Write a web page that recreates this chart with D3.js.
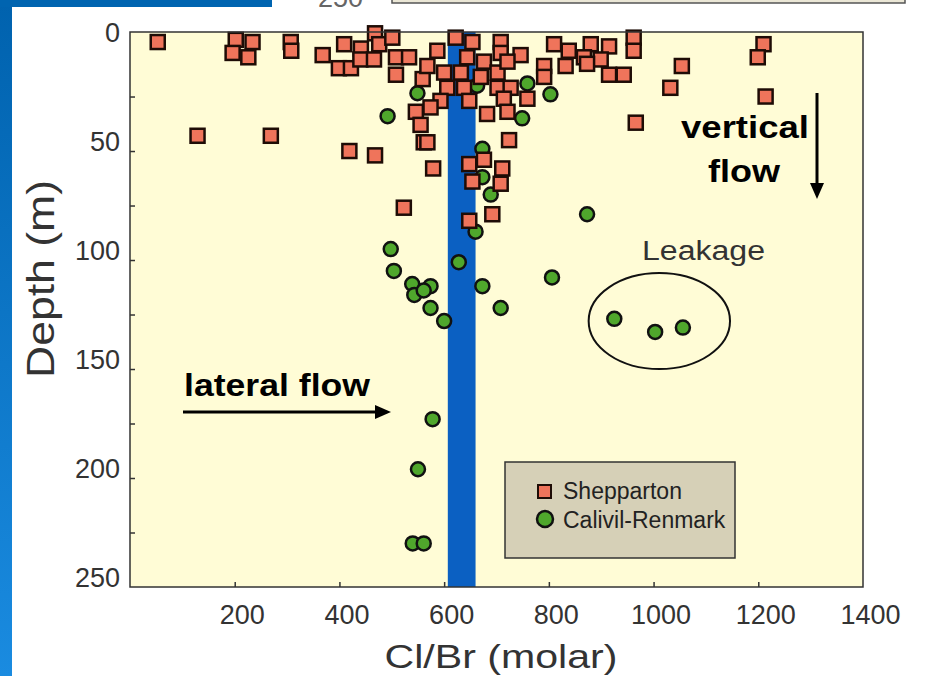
<!DOCTYPE html>
<html>
<head>
<meta charset="utf-8">
<script src="https://cdn.jsdelivr.net/npm/d3@7"></script>
<style>
  body { margin: 0; background: #fff; }
  svg { display: block; font-family: "Liberation Sans", Arial, sans-serif; }
</style>
</head>
<body>
<svg width="926" height="676"></svg>
<script>
const width = 926;
const height = 676;

// Cl/Br (molar), depth (m)
const shepparton = [
  [53, 0], [202, -1], [234, 0], [196, 5], [226, 7], [307, 0], [308, 4], [368, 6],
  [409, 1], [399, 12], [422, 12], [441, 3], [440, 8], [468, -4], [476, 1], [466, 8],
  [501, -2], [508, 7], [533, 7], [508, 15], [559, 17], [546, 32], [555, 38], [561, 46],
  [129, 43], [269, 43], [419, 50], [468, 52],
  [622, -2], [654, 0], [708, 0], [810, 1], [880, 1], [915, 2], [962, -2], [962, 4],
  [587, 4], [644, 7], [708, 5], [746, 6], [838, 4], [867, 7], [899, 8], [568, 11],
  [600, 14], [632, 14], [676, 9], [702, 14], [721, 9], [791, 11], [832, 11], [873, 10],
  [915, 15], [943, 15], [670, 16], [791, 16], [606, 21], [638, 21], [702, 21], [727, 21],
  [593, 27], [648, 27], [714, 26], [759, 26], [574, 30], [682, 33], [721, 32], [966, 37],
  [568, 46], [724, 45], [579, 58], [648, 56], [676, 54], [711, 58], [654, 64], [708, 65],
  [523, 76], [648, 82], [692, 79],
  [1210, 1], [1199, 7], [1054, 11], [1032, 21], [1214, 25]
];

const calivil = [
  [549, 23.5], [492, 34], [663, 20], [759, 19], [803, 24], [749, 35], [673, 49], [673, 62],
  [689, 70], [873, 79], [660, 87], [628, 101], [498, 95], [504, 105], [539, 111], [574, 112],
  [543, 116], [561, 114], [574, 122], [600, 128], [673, 112], [708, 122], [806, 108],
  [925, 127], [1003, 133], [1056, 131], [578, 173], [550, 196], [540, 230], [561, 230]
];

const xTicks = [200, 400, 600, 800, 1000, 1200, 1400];
const yTicks = [0, 25, 50, 75, 100, 125, 150, 175, 200, 225, 250];
const seawaterBand = [607, 660];
const seriesNames = ["Shepparton", "Calivil-Renmark"];

const x = d3.scaleLinear().domain([0, 1400]).range([130, 863]);
const y = d3.scaleLinear().domain([-4.6, 250]).range([32, 587]);

const svg = d3.select("svg");

// slide background pieces
const grad = svg.append("defs").append("linearGradient")
  .attr("id", "slideBlue").attr("x1", 0).attr("y1", 0).attr("x2", 0).attr("y2", 1);
grad.append("stop").attr("offset", "0%").attr("stop-color", "#0062ae");
grad.append("stop").attr("offset", "100%").attr("stop-color", "#1a8be0");
svg.append("rect").attr("x", 0).attr("y", 0).attr("width", 12).attr("height", height)
  .attr("fill", "url(#slideBlue)");
svg.append("rect").attr("x", 0).attr("y", 0).attr("width", 272).attr("height", 7)
  .attr("fill", "#0064b0");

// remains of the chart above
svg.append("rect").attr("x", 392).attr("y", -20).attr("width", 513).attr("height", 23)
  .attr("fill", "#ebe7d6").attr("stroke", "#555").attr("stroke-width", 1.5);
svg.append("text").attr("x", 318).attr("y", 7).attr("font-size", 27)
  .attr("fill", "#666").text("250");

// plot area
svg.append("rect")
  .attr("x", x(0)).attr("y", y(-4.6))
  .attr("width", x(1400) - x(0)).attr("height", y(250) - y(-4.6))
  .attr("fill", "#fffcd6");

svg.append("rect")
  .attr("x", x(seawaterBand[0])).attr("y", y(-4.6))
  .attr("width", x(seawaterBand[1]) - x(seawaterBand[0]))
  .attr("height", y(250) - y(-4.6))
  .attr("fill", "#0b60c2");

svg.append("g")
  .selectAll("circle")
  .data(calivil)
  .join("circle")
  .attr("cx", d => x(d[0]))
  .attr("cy", d => y(d[1]))
  .attr("r", 7)
  .attr("fill", "#4fa72c")
  .attr("stroke", "#111")
  .attr("stroke-width", 2.5);

svg.append("g")
  .selectAll("rect")
  .data(shepparton)
  .join("rect")
  .attr("x", d => x(d[0]) - 7)
  .attr("y", d => y(d[1]) - 7)
  .attr("width", 14)
  .attr("height", 14)
  .attr("fill", "#ef745b")
  .attr("stroke", "#1e0c06")
  .attr("stroke-width", 2.5);

// frame and axes
svg.append("rect")
  .attr("x", x(0)).attr("y", y(-4.6))
  .attr("width", x(1400) - x(0)).attr("height", y(250) - y(-4.6))
  .attr("fill", "none").attr("stroke", "#333").attr("stroke-width", 1.5);

const xAxis = svg.append("g")
  .attr("transform", `translate(0,${y(250)})`)
  .call(d3.axisBottom(x).tickValues(xTicks).tickFormat(d3.format("d"))
    .tickSizeInner(-5).tickSizeOuter(0).tickPadding(18));
xAxis.select(".domain").remove();
xAxis.selectAll(".tick line").attr("stroke", "#333").attr("stroke-width", 1.5)
  .filter(d => d === 1400).remove();
xAxis.selectAll(".tick text")
  .attr("font-size", 27).attr("font-family", "Liberation Sans, Arial, sans-serif")
  .attr("fill", "#333").attr("dx", 7);

const yAxis = svg.append("g")
  .attr("transform", `translate(${x(0)},0)`)
  .call(d3.axisLeft(y).tickValues(yTicks).tickSizeInner(-5).tickSizeOuter(0).tickPadding(10)
    .tickFormat(d => d % 50 === 0 ? d : ""));
yAxis.select(".domain").remove();
yAxis.selectAll(".tick line").attr("stroke", "#333").attr("stroke-width", 1.5)
  .filter(d => d === 0 || d === 250).remove();
yAxis.selectAll(".tick text")
  .attr("font-size", 27).attr("font-family", "Liberation Sans, Arial, sans-serif")
  .attr("fill", "#333").attr("y", -9);

svg.append("text")
  .attr("transform", "translate(54,279) rotate(-90)")
  .attr("text-anchor", "middle")
  .attr("font-size", 38).attr("fill", "#333")
  .attr("textLength", 198).attr("lengthAdjust", "spacingAndGlyphs")
  .text("Depth (m)");

svg.append("text")
  .attr("x", 501).attr("y", 668)
  .attr("text-anchor", "middle")
  .attr("font-size", 34).attr("fill", "#333")
  .attr("textLength", 233).attr("lengthAdjust", "spacingAndGlyphs")
  .text("Cl/Br (molar)");

// annotations
svg.append("text").attr("x", 745).attr("y", 138).attr("text-anchor", "middle")
  .attr("font-size", 32).attr("font-weight", "bold").attr("fill", "#000")
  .attr("textLength", 128).attr("lengthAdjust", "spacingAndGlyphs").text("vertical");
svg.append("text").attr("x", 744).attr("y", 182).attr("text-anchor", "middle")
  .attr("font-size", 32).attr("font-weight", "bold").attr("fill", "#000")
  .attr("textLength", 72).attr("lengthAdjust", "spacingAndGlyphs").text("flow");

svg.append("line").attr("x1", 817).attr("y1", 93).attr("x2", 817).attr("y2", 186)
  .attr("stroke", "#000").attr("stroke-width", 3);
svg.append("path").attr("d", "M810,183L824,183L817,199Z").attr("fill", "#000");

svg.append("text").attr("x", 184).attr("y", 396)
  .attr("font-size", 32).attr("font-weight", "bold").attr("fill", "#000")
  .attr("textLength", 186).attr("lengthAdjust", "spacingAndGlyphs").text("lateral flow");
svg.append("line").attr("x1", 183).attr("y1", 412).attr("x2", 378).attr("y2", 412)
  .attr("stroke", "#000").attr("stroke-width", 3);
svg.append("path").attr("d", "M375,405L375,419L391,412Z").attr("fill", "#000");

svg.append("ellipse")
  .attr("cx", x(1011)).attr("cy", y(128))
  .attr("rx", x(1011 + 135) - x(1011)).attr("ry", y(128 + 22) - y(128))
  .attr("fill", "none").attr("stroke", "#111").attr("stroke-width", 2);
svg.append("text").attr("x", 642).attr("y", 260)
  .attr("font-size", 27).attr("fill", "#333")
  .attr("textLength", 123).attr("lengthAdjust", "spacingAndGlyphs").text("Leakage");

// legend
const legend = svg.append("g").attr("transform", "translate(505,462)");
legend.append("rect").attr("width", 230).attr("height", 96)
  .attr("fill", "#d6d0b7").attr("stroke", "#333").attr("stroke-width", 1.5);
legend.append("rect").attr("x", 33).attr("y", 23).attr("width", 13).attr("height", 13)
  .attr("fill", "#ef745b").attr("stroke", "#1e0c06").attr("stroke-width", 2);
legend.append("circle").attr("cx", 40).attr("cy", 57).attr("r", 8)
  .attr("fill", "#4fa72c").attr("stroke", "#111").attr("stroke-width", 2.5);
legend.selectAll("text.lab")
  .data(seriesNames)
  .join("text")
  .attr("class", "lab")
  .attr("x", 58).attr("y", (d, i) => 37 + i * 29)
  .attr("font-size", 23).attr("fill", "#222")
  .text(d => d);
</script>
</body>
</html>
